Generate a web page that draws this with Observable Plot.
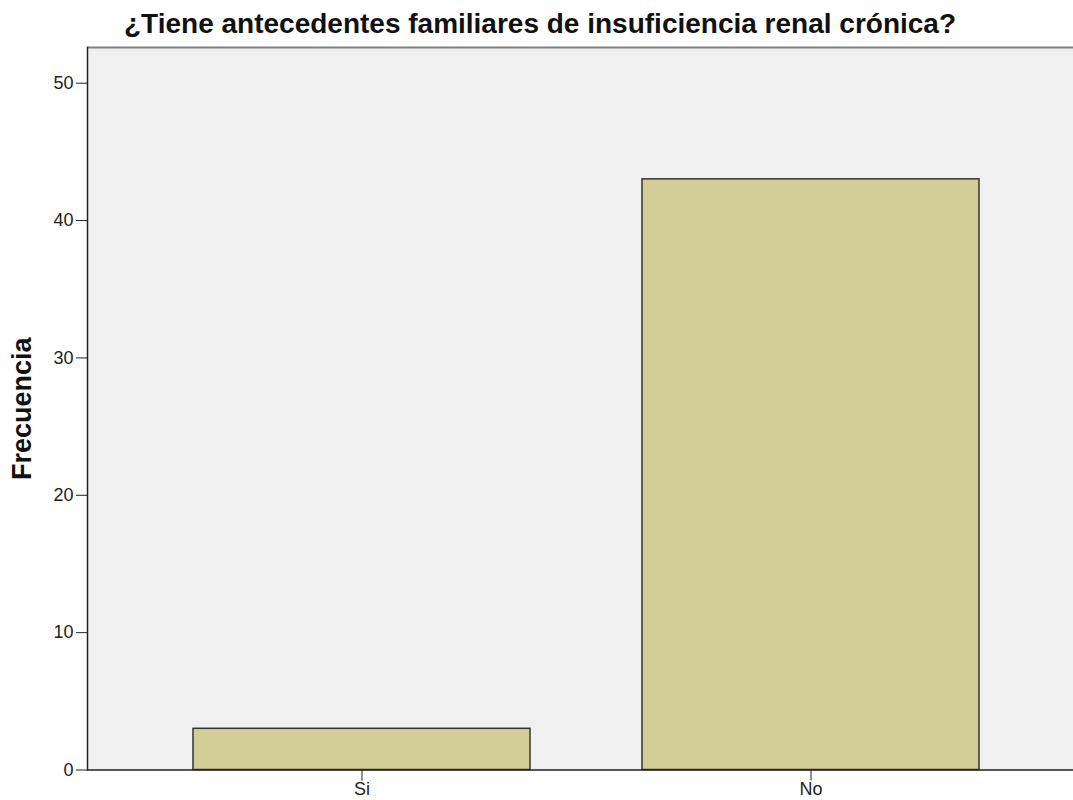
<!DOCTYPE html>
<html><head><meta charset="utf-8">
<script src="https://cdn.jsdelivr.net/npm/d3@7"></script>
<script src="https://cdn.jsdelivr.net/npm/@observablehq/plot@0.6"></script>
<style>
html,body{margin:0;padding:0;background:#fff;overflow:hidden;width:1073px;height:800px}
#title{box-sizing:border-box;height:40px;padding-top:4px;width:1080px;font:bold 28px "Liberation Sans",Arial,sans-serif;text-align:center;line-height:40px;color:#111;white-space:nowrap}
#chart svg{display:block;max-width:none !important}
</style></head><body>
<div id="title"></div>
<div id="chart"></div>
<script>
const titleText = "¿Tiene antecedentes familiares de insuficiencia renal crónica?";
const yLabel = "Frecuencia";
const categories = ["Si", "No"];
const frequencies = [3, 43];
const yTicks = [0, 10, 20, 30, 40, 50];
const yMax = 52.6;

document.getElementById("title").textContent = titleText;
const data = categories.map((c, i) => ({categoria: c, frecuencia: frequencies[i]}));

const chart = Plot.plot({
  width: 1085, height: 760,
  marginLeft: 87, marginRight: 0, marginTop: 7, marginBottom: 30.5,
  style: {fontFamily: "'Liberation Sans', Arial, sans-serif", fontSize: "18px", color: "#222", background: "transparent", overflow: "visible"},
  x: {domain: categories, paddingInner: 0.25, paddingOuter: 0.236, label: null},
  y: {domain: [0, yMax], label: null},
  marks: [
    Plot.frame({fill: "#f0f0f0", stroke: null}),
    Plot.ruleY([yMax], {stroke: "#808080", strokeWidth: 2}),
    Plot.barY(data, {x: "categoria", y: "frecuencia", fill: "#d3ce98", stroke: "#333", strokeWidth: 1.5}),
    Plot.frame({anchor: "left", stroke: "#222", strokeWidth: 1.5}),
    Plot.ruleY([0], {stroke: "#222", strokeWidth: 1.5}),
    Plot.axisY({ticks: yTicks, tickSize: 11, tickPadding: 3, label: null, tickFormat: d => String(d)}),
    Plot.axisX({tickSize: 11, tickPadding: 1, label: null}),
    Plot.text([yLabel], {frameAnchor: "left", textAnchor: "middle", rotate: -90, dx: -65, fontSize: 27, fontWeight: "bold", fill: "#111"})
  ]
});
document.getElementById("chart").appendChild(chart);
</script>
</body></html>
